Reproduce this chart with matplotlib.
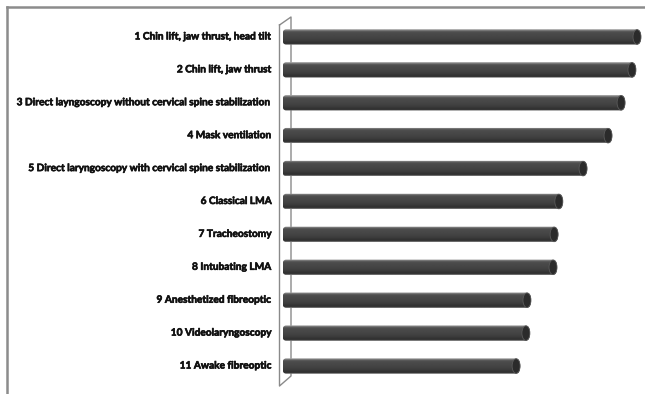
import numpy as np
import matplotlib
matplotlib.use("Agg")
import matplotlib.pyplot as plt
import matplotlib.patheffects as pe
from matplotlib.patches import FancyBboxPatch, Ellipse
from matplotlib.lines import Line2D

categories = [
    "1 Chin lift, jaw thrust, head tilt",
    "2 Chin lift, jaw thrust",
    "3 Direct layngoscopy without cervical spine stabilization",
    "4 Mask ventilation",
    "5 Direct laryngoscopy with cervical spine stabilization",
    "6 Classical LMA",
    "7 Tracheostomy",
    "8 Intubating LMA",
    "9 Anesthetized fibreoptic",
    "10 Videolaryngoscopy",
    "11 Awake fibreoptic",
]
values = [98.9, 97.5, 94.5, 90.9, 84.0, 77.3, 76.0, 75.7, 68.5, 68.2, 65.5]

W, H = 645, 394
fig = plt.figure(figsize=(W / 100, H / 100), dpi=100)
fig.patch.set_facecolor("white")

def px(x, y):
    return x / W, 1 - y / H

# plot area
ax_left, ax_right, ax_top, ax_bottom = 283, 645, 20.5, 382.5
ax = fig.add_axes([ax_left / W, 1 - ax_bottom / H,
                   (ax_right - ax_left) / W, (ax_bottom - ax_top) / H])
n = len(categories)
ax.axis("off")
ax.set_zorder(3)

# outer frame (top and left edges)
frame_c = "#8c8c8c"
fig.add_artist(Line2D([px(6.5, 0)[0], px(6.5, 0)[0]], [px(0, 6.5)[1], 0],
                      transform=fig.transFigure, color=frame_c, lw=1.8))
fig.add_artist(Line2D([px(6.5, 0)[0], 1], [px(0, 6.5)[1], px(0, 6.5)[1]],
                      transform=fig.transFigure, color=frame_c, lw=1.8))

# 3D back wall
wall_c = "#8a8a8a"
wall = [(279.5, 25), (291, 17), (291, 376), (279.5, 386), (279.5, 25)]
xs = [px(x, y)[0] for x, y in wall]
ys = [px(x, y)[1] for x, y in wall]
fig.add_artist(Line2D(xs, ys, transform=fig.transFigure, color=wall_c, lw=1.0, zorder=1))

# bar geometry
x_per_px = 100 / (ax_right - ax_left)
y_per_px = 1 / ((ax_bottom - ax_top) / n)
bh = 15.5 * y_per_px
cap_w = 8 * x_per_px
rx = 4 * x_per_px
ry = 7.5 * y_per_px

# vertical shading of the cylinder, top to bottom
grad = np.array([0.62, 0.45, 0.33, 0.30, 0.29, 0.28, 0.28, 0.27, 0.26,
                 0.25, 0.24, 0.22, 0.20, 0.19, 0.42]).reshape(-1, 1)
x_start = -0.9 * x_per_px

for i, v in enumerate(values):
    y0 = i - bh / 2
    patch = FancyBboxPatch((x_start, y0), v - x_start, bh,
                           boxstyle=f"round,pad=0,rounding_size={rx}",
                           mutation_aspect=ry / rx,
                           facecolor="none", edgecolor="none")
    ax.add_patch(patch)
    im = ax.imshow(grad, cmap="gray", vmin=0, vmax=1, aspect="auto",
                   extent=(x_start, v, i + bh / 2, i - bh / 2),
                   interpolation="bilinear", zorder=2)
    im.set_clip_path(patch)
    # rounded end cap
    ax.add_patch(Ellipse((v - cap_w / 2, i), cap_w, bh * 0.94,
                         facecolor="#2b2b2b", edgecolor="#5a5a5a",
                         lw=0.6, zorder=3))

ax.set_xlim(0, 100)
ax.set_ylim(n - 0.5, -0.5)

# category labels
for i, c in enumerate(categories):
    ax.text(-11 * x_per_px, i, c, ha="right", va="center",
            fontsize=7.3, fontweight="bold", family="Lato", color="#111111",
            clip_on=False,
            path_effects=[pe.withStroke(linewidth=0.45, foreground="#111111")])

fig.savefig("out.png", dpi=100, facecolor="white")
